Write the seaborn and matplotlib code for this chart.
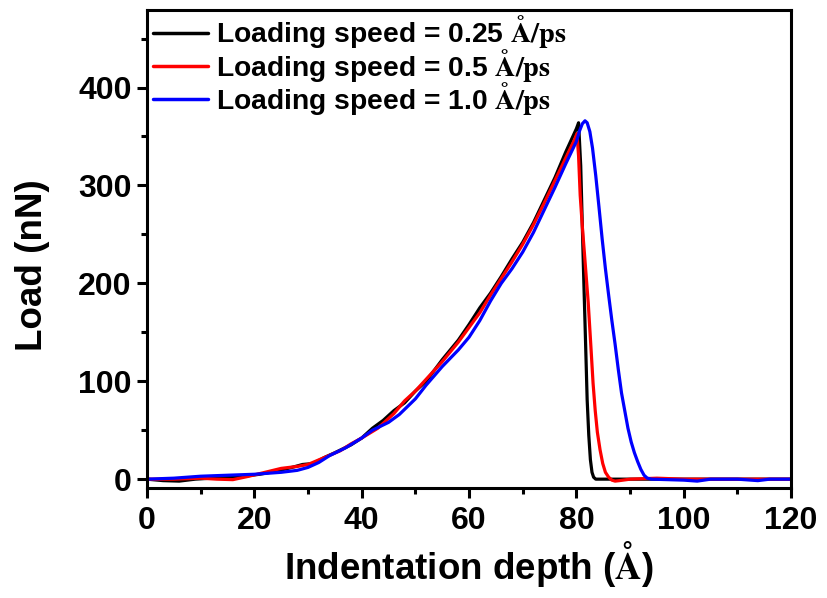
import numpy as np
import pandas as pd
import seaborn as sns
import matplotlib.pyplot as plt

# Load-depth curves
depth_025 = [0, 3, 6, 9, 12, 15, 18, 21, 24, 27, 29, 31, 33, 35, 38, 40, 42, 44, 46, 48,
             50, 52, 55, 58, 60, 62, 64, 66, 68, 70, 72, 74, 76, 78, 80, 80.4, 80.8, 81.3,
             81.7, 82.0, 82.3, 82.6, 82.9, 83.2, 83.6, 90, 100, 110, 120]
load_025 = [0, -1.5, -2, 0, 1, 2, 3, 5, 8, 12, 15, 16, 22, 27, 35, 42, 52, 60, 70, 78,
            90, 100, 122, 142, 158, 175, 190, 207, 225, 242, 262, 285, 308, 334, 358, 364, 320, 217,
            140, 81, 45, 20, 7, 2, 0, 0, 0, 0, 0]

depth_05 = [0, 5, 10, 13, 16, 19, 22, 25, 28, 30, 33, 36, 38, 40, 43, 46, 48, 50, 52, 55,
            58, 60, 62, 64, 66, 68, 70, 72, 74, 76, 78, 79.5, 80.1, 80.4, 80.7, 81.1, 81.5,
            82.2, 82.7, 83.1, 83.5, 83.9, 84.4, 84.9, 85.4, 86.0, 86.6, 87.2, 88, 90, 95, 100, 120]
load_05 = [0, 0, 1, 0, -0.5, 3, 7, 11, 13, 15, 22, 29, 36, 42, 52, 67, 80, 90, 102, 120,
           140, 155, 170, 188, 205, 222, 240, 260, 282, 305, 328, 345, 353, 330, 290, 258, 230,
           180, 135, 98, 70, 48, 30, 16, 7, 2, -1, -2, -1.5, 0, 1, 0, 0]

depth_10 = [0, 5, 10, 15, 20, 25, 28, 30, 32, 34, 37, 40, 42, 45, 47, 50, 52, 55, 58, 60,
            62, 64, 66, 68, 70, 72, 74, 76, 78, 80, 80.6, 81.1, 81.6, 82.0, 82.5, 83.0, 83.6,
            84.2, 84.8, 85.4, 86.0, 86.6, 87.2, 87.8, 88.4, 89.0, 89.6, 90.2, 90.8, 91.4, 92.0,
            92.6, 93.2, 94, 100, 102.5, 105, 110, 113.8, 116, 120]
load_10 = [0, 1, 3, 4, 5, 7, 9, 12, 17, 24, 32, 42, 50, 58, 66, 82, 96, 115, 132, 145,
           162, 182, 200, 215, 232, 252, 275, 298, 322, 345, 356, 363, 366, 364, 355, 338, 310,
           278, 245, 215, 188, 162, 138, 112, 88, 70, 52, 38, 27, 18, 10,
           4, 1, 0, -1, -2, 0, 0, -1.5, 0, 0]

labels = [r"Loading speed = 0.25 $\mathbf{\AA/ps}$",
          r"Loading speed = 0.5 $\mathbf{\AA/ps}$",
          r"Loading speed = 1.0 $\mathbf{\AA/ps}$"]
colors = ["black", "red", "blue"]

df = pd.concat([
    pd.DataFrame({"depth": depth_025, "load": load_025, "speed": labels[0]}),
    pd.DataFrame({"depth": depth_05, "load": load_05, "speed": labels[1]}),
    pd.DataFrame({"depth": depth_10, "load": load_10, "speed": labels[2]}),
])

sns.set_theme(style="ticks")
plt.rcParams["font.family"] = ["Liberation Sans", "DejaVu Sans"]
plt.rcParams["font.weight"] = "bold"
plt.rcParams["mathtext.fontset"] = "stix"
for key in ["text.color", "axes.labelcolor", "xtick.color", "ytick.color"]:
    plt.rcParams[key] = "black"

fig = plt.figure(figsize=(8.28, 5.98), dpi=100)
ax = fig.add_axes([0.1775, 0.184, 0.778, 0.799])

sns.lineplot(data=df, x="depth", y="load", hue="speed", palette=colors,
             linewidth=2.3, sort=False, estimator=None, ax=ax)

ax.set_xlim(0, 120)
ax.set_ylim(-9, 479)
ax.set_xticks(np.arange(0, 121, 20))
ax.set_xticks(np.arange(0, 121, 10), minor=True)
ax.set_yticks(np.arange(0, 401, 100))
ax.set_yticks(np.arange(0, 451, 50), minor=True)

ax.tick_params(axis="both", which="major", direction="out", length=7, width=2.2,
               labelsize=23, top=False, right=False)
ax.tick_params(axis="x", which="major", pad=6)
ax.tick_params(axis="y", which="major", pad=4)
ax.tick_params(axis="both", which="minor", direction="out", length=4, width=2.2,
               top=False, right=False)
for lbl in ax.get_xticklabels() + ax.get_yticklabels():
    lbl.set_fontweight("bold")
for sp in ax.spines.values():
    sp.set_linewidth(2.2)
    sp.set_color("black")

ax.set_xlabel(r"Indentation depth ($\mathbf{\AA}$)", fontsize=26.5, fontweight="bold", labelpad=2)
ax.set_ylabel("Load (nN)", fontsize=26.5, fontweight="bold")
ax.yaxis.set_label_coords(-0.151, 0.467)

leg = ax.legend(loc="upper left", frameon=False, fontsize=20.3, handlelength=1.95,
                handletextpad=0.3, labelspacing=-0.13, borderaxespad=0.0, borderpad=0.2,
                bbox_to_anchor=(0.0, 1.005))
for line in leg.get_lines():
    line.set_linewidth(2.5)
for t in leg.get_texts():
    t.set_fontweight("bold")

fig.savefig("out.png", dpi=100)
